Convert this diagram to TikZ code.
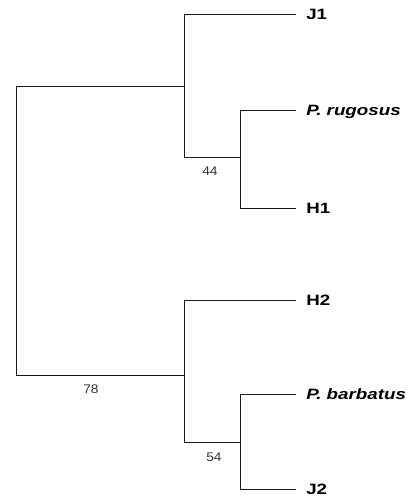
\documentclass[tikz,border=0pt]{standalone}
\usepackage{fontspec}
\setmainfont{Liberation Sans}
\begin{document}
\begin{tikzpicture}[x=1pt,y=-1pt,
  branch/.style={draw=black!90,line width=1pt},
  taxon/.style={anchor=base west,inner sep=0pt,font=\fontsize{15}{15}\selectfont\bfseries,xscale=1.25},
  boot/.style={anchor=base,inner sep=0pt,font=\fontsize{12.5}{13}\selectfont,text=black!80,xscale=1.1}]
\useasboundingbox (0,0) rectangle (408,499);
% nodes (internal)
\coordinate (root) at (16,230);
\coordinate (A) at (184,86);
\coordinate (A1) at (240,157);
\coordinate (B) at (184,375);
\coordinate (B1) at (240,442);
% leaf ends
\coordinate (lJ1) at (296,14);
\coordinate (lPr) at (296,110);
\coordinate (lH1) at (296,208);
\coordinate (lH2) at (296,300);
\coordinate (lPb) at (296,394);
\coordinate (lJ2) at (296,489);
% labels
\node[taxon] (tJ1) at (306,19.5) {J1};
\node[taxon] (tPr) at (306,115.5) {\itshape P. rugosus};
\node[taxon] (tH1) at (306,213.5) {H1};
\node[taxon] (tH2) at (306,305.5) {H2};
\node[taxon] (tPb) at (306,399.5) {\itshape P. barbatus};
\node[taxon] (tJ2) at (306,494.5) {J2};
\node[boot] (b44) at (210,175.5) {44};
\node[boot] (b78) at (91,393.5) {78};
\node[boot] (b54) at (214,461.5) {54};
% branches
\draw[branch] (A) -| (16,375) -- (B);
\draw[branch] (lJ1) -| (A |- A1) -- (A1);
\draw[branch] (lPr) -| (lH1 -| A1) -- (lH1);
\draw[branch] (lH2) -| (B |- B1) -- (B1);
\draw[branch] (lPb) -| (lJ2 -| B1) -- (lJ2);
\end{tikzpicture}
\end{document}
